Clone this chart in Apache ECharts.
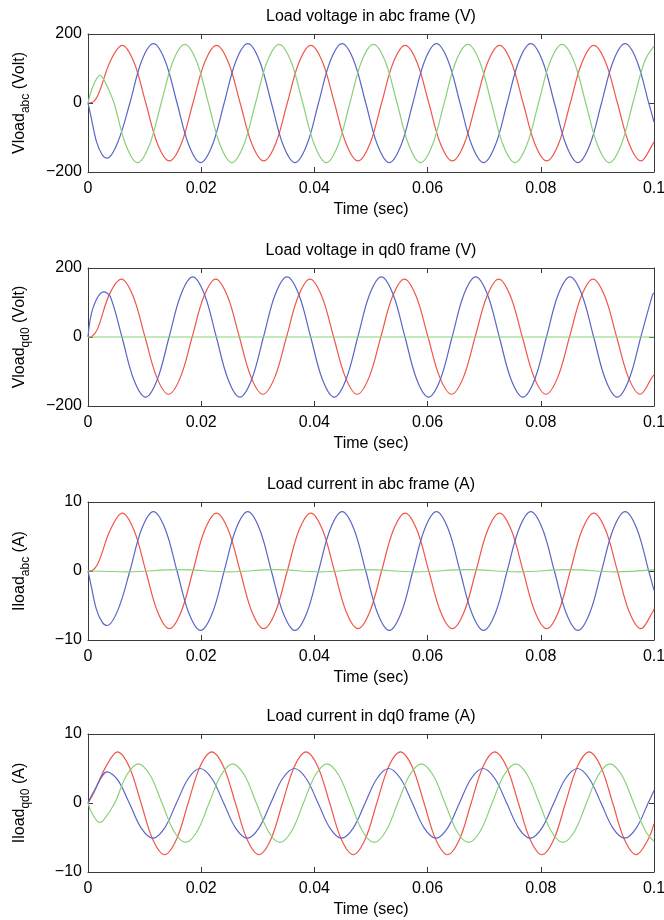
<!DOCTYPE html>
<html><head><meta charset="utf-8">
<script src="https://cdn.jsdelivr.net/npm/echarts@6/dist/echarts.min.js"></script>
<style>html,body{margin:0;padding:0;background:#fff}#c{width:664px;height:920px}</style>
</head><body><div id="c"></div>
<script>
// ---------- DATA ----------
const titles = ['Load voltage in abc frame (V)','Load voltage in qd0 frame (V)','Load current in abc frame (A)','Load current in dq0 frame (A)'];
const yNames = [['Vload','abc',' (Volt)'],['Vload','qd0',' (Volt)'],['Iload','abc',' (A)'],['Iload','qd0',' (A)']];
const xTickLabels = ['0','0.02','0.04','0.06','0.08','0.1'];

// Panel 1: load voltage abc (V) — [time s, value]
const vAbcRed = [[0,0],[0.0008,2],[0.00187,27],[0.00396,122],
[0.00604,167],[0.00812,118],[0.01021,0],[0.01229,-119],[0.01437,-168],[0.01646,-119],[0.01854,0],[0.02062,118],
[0.02271,167],[0.02479,118],[0.02688,0],[0.02896,-119],[0.03104,-168],[0.03313,-119],[0.03521,0],[0.03729,118],
[0.03937,167],[0.04145,118],[0.04354,0],[0.04562,-119],[0.0477,-168],[0.04979,-119],[0.05187,0],[0.05395,118],
[0.05604,167],[0.05812,118],[0.06021,0],[0.06229,-119],[0.06437,-168],[0.06646,-119],[0.06854,0],[0.07062,118],
[0.07271,167],[0.07479,118],[0.07688,0],[0.07896,-119],[0.08104,-168],[0.08313,-119],[0.08521,0],[0.08729,118],
[0.08937,167],[0.09145,118],[0.09354,0],[0.09562,-119],[0.0977,-168],[0.09979,-119],[0.1,-112]];
const vAbcBlue = [[0,0],[0.0006,-45],[0.0015,-112],[0.0025,-150],[0.0034,-160],[0.00531,-112],[0.0074,0],[0.00948,122],
[0.01156,172],[0.01364,122],[0.01573,0],[0.01781,-122],[0.01989,-173],[0.02198,-122],[0.02406,0],[0.02614,122],
[0.02823,172],[0.03031,122],[0.0324,0],[0.03448,-122],[0.03656,-173],[0.03865,-122],[0.04073,0],[0.04281,122],
[0.0449,172],[0.04698,122],[0.04907,0],[0.05115,-122],[0.05323,-173],[0.05532,-122],[0.0574,0],[0.05948,122],
[0.06156,172],[0.06364,122],[0.06573,0],[0.06781,-122],[0.06989,-173],[0.07198,-122],[0.07406,0],[0.07614,122],
[0.07823,172],[0.08031,122],[0.0824,0],[0.08448,-122],[0.08656,-173],[0.08865,-122],[0.09073,0],[0.09281,122],
[0.0949,172],[0.09698,122],[0.09907,0],[0.1,-55]];
const vAbcGreen = [[0,0],[0.0008,45],[0.0021,80],[0.0034,48],[0.0046,0],[0.00669,-122],[0.00877,-173],[0.01085,-122],[0.01294,0],[0.01502,121],
[0.0171,170],[0.01918,121],[0.02127,0],[0.02335,-122],[0.02543,-173],[0.02752,-122],[0.0296,0],[0.03168,121],
[0.03377,170],[0.03585,121],[0.03794,0],[0.04002,-122],[0.0421,-173],[0.04419,-122],[0.04627,0],[0.04835,121],
[0.05043,170],[0.05251,121],[0.0546,0],[0.05668,-122],[0.05876,-173],[0.06085,-122],[0.06293,0],[0.06501,121],
[0.0671,170],[0.06918,121],[0.07127,0],[0.07335,-122],[0.07543,-173],[0.07752,-122],[0.0796,0],[0.08168,121],
[0.08377,170],[0.08585,121],[0.08794,0],[0.09002,-122],[0.0921,-173],[0.09419,-122],[0.09627,0],[0.09835,121],[0.1,165]];

// Panel 2: load voltage qd0 (V)
const vQdRed = [[0,0],[0.0008,3],[0.00173,25],[0.00382,125],
[0.0059,168],[0.00798,118],[0.01007,0],[0.01215,-117],[0.01423,-166],[0.01632,-117],[0.0184,0],[0.02048,118],
[0.02257,168],[0.02465,118],[0.02674,0],[0.02882,-117],[0.0309,-166],[0.03299,-117],[0.03507,0],[0.03715,118],
[0.03923,168],[0.04131,118],[0.0434,0],[0.04548,-117],[0.04756,-166],[0.04965,-117],[0.05173,0],[0.05381,118],
[0.0559,168],[0.05798,118],[0.06007,0],[0.06215,-117],[0.06423,-166],[0.06632,-117],[0.0684,0],[0.07048,118],
[0.07257,168],[0.07465,118],[0.07674,0],[0.07882,-117],[0.0809,-166],[0.08299,-117],[0.08507,0],[0.08715,118],
[0.08923,168],[0.09131,118],[0.0934,0],[0.09548,-117],[0.09756,-166],[0.09965,-117],[0.1,-110]];
const vQdBlue = [[0,0],[0.0009,85],[0.0028,131],[0.00392,118],[0.006,0],[0.00808,-123],[0.01017,-174],[0.01225,-123],[0.01433,0],[0.01642,123],
[0.0185,174],[0.02058,123],[0.02267,0],[0.02475,-123],[0.02683,-174],[0.02892,-123],[0.031,0],[0.03308,123],
[0.03517,174],[0.03725,123],[0.03934,0],[0.04142,-123],[0.0435,-174],[0.04559,-123],[0.04767,0],[0.04975,123],
[0.05183,174],[0.05391,123],[0.056,0],[0.05808,-123],[0.06016,-174],[0.06225,-123],[0.06433,0],[0.06641,123],
[0.0685,174],[0.07058,123],[0.07267,0],[0.07475,-123],[0.07683,-174],[0.07892,-123],[0.081,0],[0.08308,123],
[0.08517,174],[0.08725,123],[0.08934,0],[0.09142,-123],[0.0935,-174],[0.09559,-123],[0.09767,0],[0.09975,123],[0.1,127]];
const vQdGreen = [[0,0],[0.05,0],[0.1,0]];

// Panel 3: load current abc (A)
const iAbcRed = [[0,0],[0.0008,0.1],[0.00187,1.3],[0.00396,6.0],
[0.00604,8.4],[0.00812,5.93],[0.01021,0],[0.01229,-5.9],[0.01437,-8.35],[0.01646,-5.9],[0.01854,0],[0.02062,5.93],
[0.02271,8.4],[0.02479,5.93],[0.02688,0],[0.02896,-5.9],[0.03104,-8.35],[0.03313,-5.9],[0.03521,0],[0.03729,5.93],
[0.03937,8.4],[0.04145,5.93],[0.04354,0],[0.04562,-5.9],[0.0477,-8.35],[0.04979,-5.9],[0.05187,0],[0.05395,5.93],
[0.05604,8.4],[0.05812,5.93],[0.06021,0],[0.06229,-5.9],[0.06437,-8.35],[0.06646,-5.9],[0.06854,0],[0.07062,5.93],
[0.07271,8.4],[0.07479,5.93],[0.07688,0],[0.07896,-5.9],[0.08104,-8.35],[0.08313,-5.9],[0.08521,0],[0.08729,5.93],
[0.08937,8.4],[0.09145,5.93],[0.09354,0],[0.09562,-5.9],[0.0977,-8.35],[0.09979,-5.9],[0.1,-5.5]];
const iAbcBlue = [[0,0],[0.0006,-2.3],[0.0015,-5.6],[0.0025,-7.4],[0.0034,-7.9],[0.00531,-5.6],[0.0074,0],[0.00948,6.08],
[0.01156,8.6],[0.01364,6.08],[0.01573,0],[0.01781,-6.08],[0.01989,-8.6],[0.02198,-6.08],[0.02406,0],[0.02614,6.08],
[0.02823,8.6],[0.03031,6.08],[0.0324,0],[0.03448,-6.08],[0.03656,-8.6],[0.03865,-6.08],[0.04073,0],[0.04281,6.08],
[0.0449,8.6],[0.04698,6.08],[0.04907,0],[0.05115,-6.08],[0.05323,-8.6],[0.05532,-6.08],[0.0574,0],[0.05948,6.08],
[0.06156,8.6],[0.06364,6.08],[0.06573,0],[0.06781,-6.08],[0.06989,-8.6],[0.07198,-6.08],[0.07406,0],[0.07614,6.08],
[0.07823,8.6],[0.08031,6.08],[0.0824,0],[0.08448,-6.08],[0.08656,-8.6],[0.08865,-6.08],[0.09073,0],[0.09281,6.08],
[0.0949,8.6],[0.09698,6.08],[0.09907,0],[0.1,-2.8]];
const iAbcGreen = [[0,0],[0.007,-0.12],[0.016,0.2],[0.025,-0.12],[0.033,0.2],[0.041,-0.12],[0.049,0.2],
[0.058,-0.12],[0.067,0.2],[0.076,-0.12],[0.085,0.2],[0.093,-0.12],[0.1,0.15]];

// Panel 4: load current dq0 (A)
const iQdRed = [[0,0],[0.00104,1.5],[0.00312,5.2],
[0.0052,7.42],[0.00728,5.27],[0.00937,0],[0.01145,-5.3],[0.01353,-7.5],[0.01562,-5.3],[0.0177,0],[0.01978,5.27],
[0.02187,7.42],[0.02395,5.27],[0.02604,0],[0.02812,-5.3],[0.0302,-7.5],[0.03229,-5.3],[0.03437,0],[0.03645,5.27],
[0.03853,7.42],[0.04061,5.27],[0.0427,0],[0.04478,-5.3],[0.04686,-7.5],[0.04895,-5.3],[0.05103,0],[0.05311,5.27],
[0.0552,7.42],[0.05728,5.27],[0.05937,0],[0.06145,-5.3],[0.06353,-7.5],[0.06562,-5.3],[0.0677,0],[0.06978,5.27],
[0.07187,7.42],[0.07395,5.27],[0.07604,0],[0.07812,-5.3],[0.0802,-7.5],[0.08229,-5.3],[0.08437,0],[0.08645,5.27],
[0.08853,7.42],[0.09061,5.27],[0.0927,0],[0.09478,-5.3],[0.09686,-7.5],[0.09895,-5.3],[0.1,-3.0]];
const iQdBlue = [[0,0],[0.00105,1.7],[0.0034,4.5],[0.00522,3.4],[0.0073,0],[0.00938,-3.6],[0.01147,-5.1],[0.01355,-3.6],[0.01563,0],[0.01772,3.55],
[0.0198,5.0],[0.02188,3.55],[0.02397,0],[0.02605,-3.6],[0.02813,-5.1],[0.03022,-3.6],[0.0323,0],[0.03438,3.55],
[0.03647,5.0],[0.03855,3.55],[0.04064,0],[0.04272,-3.6],[0.0448,-5.1],[0.04689,-3.6],[0.04897,0],[0.05105,3.55],
[0.05313,5.0],[0.05521,3.55],[0.0573,0],[0.05938,-3.6],[0.06146,-5.1],[0.06355,-3.6],[0.06563,0],[0.06771,3.55],
[0.0698,5.0],[0.07188,3.55],[0.07397,0],[0.07605,-3.6],[0.07813,-5.1],[0.08022,-3.6],[0.0823,0],[0.08438,3.55],
[0.08647,5.0],[0.08855,3.55],[0.09064,0],[0.09272,-3.6],[0.0948,-5.1],[0.09689,-3.6],[0.09897,0],[0.1,1.8]];
const iQdGreen = [[0,0],[0.0006,-1.3],[0.002,-2.8],[0.00265,-2.6],[0.00473,0],[0.00682,4.02],
[0.0089,5.68],[0.01098,4.02],[0.01307,0],[0.01515,-4.05],[0.01723,-5.72],[0.01932,-4.05],[0.0214,0],[0.02348,4.02],
[0.02557,5.68],[0.02765,4.02],[0.02974,0],[0.03182,-4.05],[0.0339,-5.72],[0.03599,-4.05],[0.03807,0],[0.04015,4.02],
[0.04223,5.68],[0.04431,4.02],[0.0464,0],[0.04848,-4.05],[0.05056,-5.72],[0.05265,-4.05],[0.05473,0],[0.05681,4.02],
[0.0589,5.68],[0.06098,4.02],[0.06307,0],[0.06515,-4.05],[0.06723,-5.72],[0.06932,-4.05],[0.0714,0],[0.07348,4.02],
[0.07557,5.68],[0.07765,4.02],[0.07974,0],[0.08182,-4.05],[0.0839,-5.72],[0.08599,-4.05],[0.08807,0],[0.09015,4.02],
[0.09223,5.68],[0.09431,4.02],[0.0964,0],[0.09848,-4.05],[0.1,-5.55]];

const yLimits = [[-200,200,200],[-200,200,200],[-10,10,10],[-10,10,10]];
const panelSeries = [[vAbcRed,vAbcBlue,vAbcGreen],[vQdRed,vQdBlue,vQdGreen],[iAbcRed,iAbcBlue,iAbcGreen],[iQdRed,iQdBlue,iQdGreen]];

// ---------- STYLE / LAYOUT ----------
const FONT = '"Liberation Sans", Arial, Helvetica, sans-serif';
const FS = 16;
const colors = ['#f0564b','#5a66c6','#8ad07b'];
const tops = [34, 268, 502, 734];
const H = 138, LEFT = 88, W = 566;
const AX = '#3a3a3a';

const grid = [], xAxis = [], yAxis = [], title = [], series = [];
const minus = s => String(s).replace('-', '\u2212');
for (let i = 0; i < 4; i++) {
  grid.push({left: LEFT, top: tops[i], width: W, height: H, containLabel: false, outerBoundsMode: 'none', show: false});
  title.push({text: titles[i], left: LEFT + W / 2, top: tops[i] - 25, textAlign: 'center', padding: 0,
    textStyle: {fontFamily: FONT, fontSize: FS, fontWeight: 'normal', color: '#000'}});
  const common = {type: 'value', gridIndex: i, splitLine: {show: false},
    axisLine: {show: true, onZero: false, lineStyle: {color: AX, width: 1}},
    axisTick: {show: true, inside: true, length: 5, lineStyle: {color: AX, width: 1}}};
  xAxis.push(Object.assign({}, common, {position: 'bottom', min: 0, max: 0.1, interval: 0.02,
    axisLabel: {margin: 9, fontFamily: FONT, fontSize: FS, color: '#000',
      formatter: v => xTickLabels[Math.round(v / 0.02)]},
    name: 'Time (sec)', nameLocation: 'middle', nameGap: 30,
    nameTextStyle: {fontFamily: FONT, fontSize: FS, color: '#000'}}));
  xAxis.push(Object.assign({}, common, {position: 'top', min: 0, max: 0.1, interval: 0.02, axisLabel: {show: false}}));
  const [ymin, ymax, yint] = yLimits[i];
  const [a, b, c] = yNames[i];
  yAxis.push(Object.assign({}, common, {position: 'left', min: ymin, max: ymax, interval: yint,
    axisLabel: {margin: 6, fontFamily: FONT, fontSize: FS, color: '#000', formatter: v => minus(v)},
    name: '{n|' + a + '}{s|' + b + '}{n|' + c + '}', nameLocation: 'middle', nameGap: 56,
    nameTextStyle: {fontFamily: FONT, fontSize: FS, color: '#000',
      rich: {n: {fontFamily: FONT, fontSize: FS, color: '#000', lineHeight: 18},
             s: {fontFamily: FONT, fontSize: 12, color: '#000', padding: [12, 0, 0, 0], verticalAlign: 'bottom'}}}}));
  yAxis.push(Object.assign({}, common, {position: 'right', min: ymin, max: ymax, interval: yint, axisLabel: {show: false}}));
  panelSeries[i].forEach((d, k) => series.push({type: 'line', xAxisIndex: 2 * i, yAxisIndex: 2 * i, data: d,
    showSymbol: false, smooth: 0.35, silent: true, clip: true,
    lineStyle: {color: colors[k], width: 1.2}, itemStyle: {color: colors[k]}}));
}

const chart = echarts.init(document.getElementById('c'), null, {renderer: 'canvas'});
chart.setOption({animation: false, backgroundColor: '#fff', title, grid, xAxis, yAxis, series});
</script></body></html>
